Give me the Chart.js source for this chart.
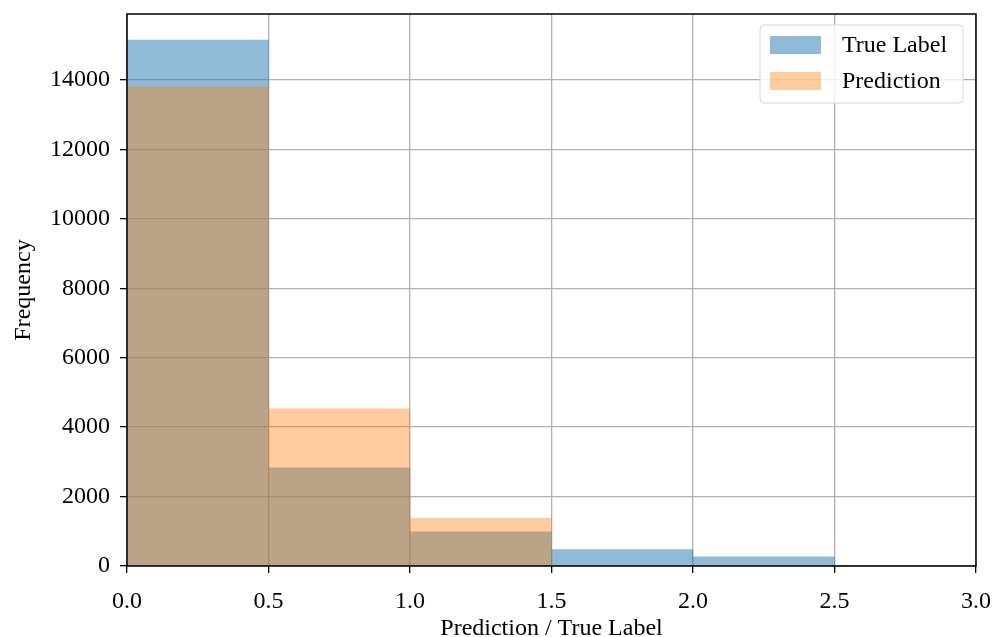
<!DOCTYPE html>
<html>
<head>
<meta charset="utf-8">
<script src="https://cdn.jsdelivr.net/npm/chart.js@4"></script>
<style>
  html, body { margin:0; padding:0; background:#fff; }
  #wrap { width:994px; height:637px; }
</style>
</head>
<body>
<div id="wrap"><canvas id="hist" width="994" height="637"></canvas></div>
<script>
// histogram bins (edges) and counts
const binEdges = [0, 0.5, 1.0, 1.5, 2.0, 2.5, 3.0];
const trueCounts = [15150, 2830, 985, 470, 265, 0];
const predCounts = [13810, 4530, 1370, 0, 0, 0];
const xTicks = [0, 0.5, 1.0, 1.5, 2.0, 2.5, 3.0];
const yTicks = [0, 2000, 4000, 6000, 8000, 10000, 12000, 14000];

const FONT = "'Liberation Serif', 'DejaVu Serif', serif";

function toPoints(counts) {
  return counts.map((c, i) => ({ x: (binEdges[i] + binEdges[i + 1]) / 2, y: c }));
}

// frame around the plot + legend box inside the plot (matplotlib style)
const framePlugin = {
  id: 'frame',
  afterDraw(chart) {
    const { ctx, chartArea: a } = chart;
    ctx.save();
    ctx.strokeStyle = '#000';
    ctx.lineWidth = 1.5;
    ctx.strokeRect(a.left, a.top, a.right - a.left, a.bottom - a.top);

    // legend
    const bx = 760, by = 25, bw = 203, bh = 78;
    ctx.fillStyle = 'rgba(255,255,255,0.8)';
    ctx.strokeStyle = '#d6d6d6';
    ctx.lineWidth = 1;
    ctx.beginPath();
    ctx.roundRect(bx, by, bw, bh, 4);
    ctx.fill();
    ctx.stroke();
    chart.data.datasets.forEach((ds, i) => {
      const y = 36 + i * 36;
      ctx.fillStyle = ds.backgroundColor;
      ctx.fillRect(770, y, 51, 18);
      ctx.fillStyle = '#000';
      ctx.font = '24px ' + FONT;
      ctx.textBaseline = 'middle';
      ctx.fillText(ds.label, 842, y + 10);
    });
    ctx.restore();
  }
};

new Chart(document.getElementById('hist'), {
  type: 'bar',
  data: {
    datasets: [
      { label: 'True Label', data: toPoints(trueCounts), backgroundColor: 'rgba(31,119,180,0.5)',
        grouped: false, order: 1, barPercentage: 1, categoryPercentage: 1 },
      { label: 'Prediction', data: toPoints(predCounts), backgroundColor: 'rgba(255,127,14,0.4)',
        grouped: false, order: 0, barPercentage: 1, categoryPercentage: 1 }
    ]
  },
  options: {
    responsive: false,
    animation: false,
    layout: { padding: { left: 0, top: 14, right: 18, bottom: 0 } },
    plugins: { legend: { display: false }, tooltip: { enabled: false } },
    scales: {
      x: {
        type: 'linear', min: 0, max: 3, z: 1, offset: false,
        afterBuildTicks: s => { s.ticks = xTicks.map(v => ({ value: v })); },
        afterFit: s => { s.height = 71; s.paddingLeft = 0; s.paddingRight = 0; },
        grid: { color: '#b0b0b0', lineWidth: 1.3, tickColor: '#000', tickLength: 7, offset: false },
        border: { display: false },
        ticks: { color: '#000', font: { family: FONT, size: 24 }, padding: 14, maxRotation: 0,
                 callback: v => v.toFixed(1) },
        title: { display: true, text: 'Prediction / True Label', color: '#000',
                 font: { family: FONT, size: 24 }, padding: { top: 0, bottom: -6 } }
      },
      y: {
        min: 0, max: 15900, z: 1,
        afterBuildTicks: s => { s.ticks = yTicks.map(v => ({ value: v })); },
        afterFit: s => { s.width = 127; s.paddingTop = 0; s.paddingBottom = 0; },
        grid: { color: '#b0b0b0', lineWidth: 1.3, tickColor: '#000', tickLength: 7 },
        border: { display: false },
        ticks: { color: '#000', font: { family: FONT, size: 24 }, padding: 10,
                 callback: v => String(v) },
        title: { display: true, text: 'Frequency', color: '#000',
                 font: { family: FONT, size: 24 }, padding: { top: 9, bottom: 0 } }
      }
    }
  },
  plugins: [framePlugin]
});
</script>
</body>
</html>
